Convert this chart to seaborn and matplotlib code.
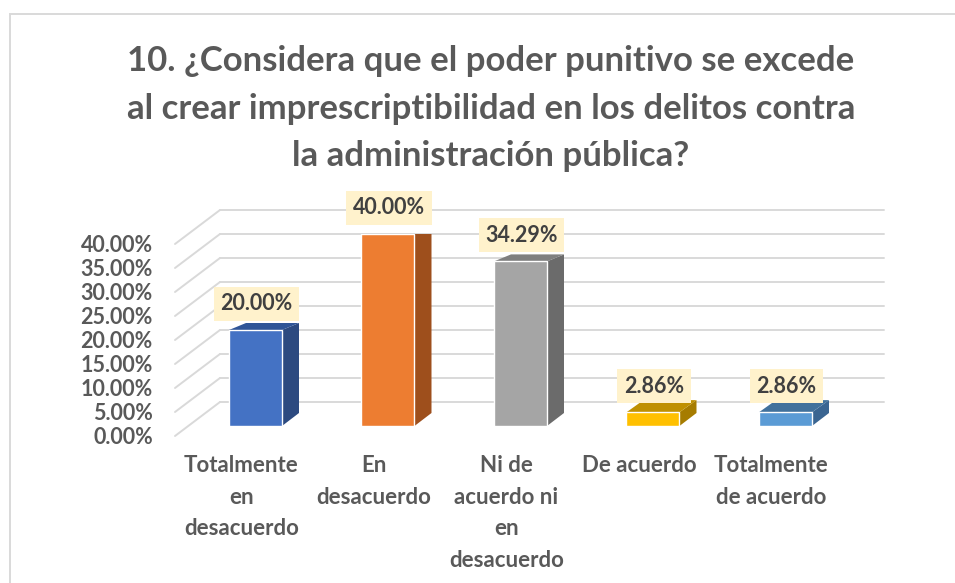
import matplotlib
matplotlib.use("Agg")
import matplotlib.pyplot as plt
import matplotlib.transforms as mtransforms
from matplotlib.patches import Polygon, Rectangle
import seaborn as sns
import pandas as pd

# datos de la pregunta 10
categories = [
    "Totalmente\nen\ndesacuerdo",
    "En\ndesacuerdo",
    "Ni de\nacuerdo ni\nen\ndesacuerdo",
    "De acuerdo",
    "Totalmente\nde acuerdo",
]
percentages = [20.00, 40.00, 34.29, 2.86, 2.86]
y_ticks = [0, 5, 10, 15, 20, 25, 30, 35, 40]
title = (
    "10. ¿Considera que el poder punitivo se excede\n"
    "al crear imprescriptibilidad en los delitos contra\n"
    "la administración pública?"
)

# colores estilo Excel (frente, lado, tapa)
front_colors = ["#4472C4", "#ED7D31", "#A5A5A5", "#FFC000", "#5B9BD5"]
side_colors = ["#2C4A80", "#9E4F1C", "#6B6B6B", "#A67C00", "#3A6591"]
top_colors = ["#2F5597", "#C55A11", "#7F7F7F", "#BF9000", "#41719C"]
text_grey = "#595959"
grid_grey = "#D9D9D9"

DPI = 100
W, H = 955, 583

sns.set_theme(style="white")
plt.rcParams["font.family"] = ["Lato", "DejaVu Sans"]

fig = plt.figure(figsize=(W / DPI, H / DPI), dpi=DPI)
ax = fig.add_axes([175 / W, 157 / H, 664 / W, 192 / H])

df = pd.DataFrame({"categoria": categories, "porcentaje": percentages})
sns.barplot(
    data=df,
    x="categoria",
    y="porcentaje",
    hue="categoria",
    palette=front_colors,
    legend=False,
    width=0.4,
    saturation=1,
    ax=ax,
    zorder=3,
)

ax.set_xlim(-0.6075, 4.4038)
ax.set_ylim(0, 40)
ax.set_xlabel("")
ax.set_ylabel("")
for sp in ax.spines.values():
    sp.set_visible(False)
ax.patch.set_alpha(0)

ax.set_yticks(y_ticks)
ax.set_yticklabels([f"{v:.2f}%" for v in y_ticks])
ax.tick_params(axis="y", length=0, pad=16, labelsize=15.5, labelcolor=text_grey)
ax.tick_params(axis="x", length=0, pad=21, labelsize=16, labelcolor=text_grey)
for lbl in ax.get_yticklabels() + ax.get_xticklabels():
    lbl.set_fontweight("bold")
for lbl in ax.get_xticklabels():
    lbl.set_linespacing(1.62)
    lbl.set_multialignment("center")

# desplazar etiquetas al plano frontal de la vista 3D
px = lambda dx, dy: mtransforms.ScaledTranslation(dx / DPI, dy / DPI, fig.dpi_scale_trans)
for t in ax.yaxis.get_major_ticks():
    t.label1.set_transform(t.label1.get_transform() + px(0, -10))
for t in ax.xaxis.get_major_ticks():
    t.label1.set_transform(t.label1.get_transform() + px(-14, 0))

# cuadricula en la pared del fondo y lineas oblicuas del lado izquierdo
back = ax.get_yaxis_transform() + px(45, 24)
ident = mtransforms.IdentityTransform()
for v in y_ticks:
    ax.plot([0, 1], [v, v], transform=back, color=grid_grey, lw=1.4,
            clip_on=False, zorder=0)
    x0, y0 = ax.get_yaxis_transform().transform((0, v))
    ax.plot([x0, x0 + 45], [y0 - 10, y0 + 24], transform=ident,
            color=grid_grey, lw=1.4, clip_on=False, zorder=0)

# caras laterales y superiores de las barras + etiquetas de datos
depth_x = 17
for i, container in enumerate(ax.containers):
    for bar in container:
        x0 = bar.get_x()
        x1 = x0 + bar.get_width()
        h = bar.get_height()
        (dx0, dy0), (dx1, dy1) = ax.transData.transform([(x0, 0), (x1, h)])
        dtop = max(7, 13 - 0.3 * h)
        side = Polygon(
            [(dx1, dy0), (dx1 + depth_x, dy0 + 13), (dx1 + depth_x, dy1 + dtop), (dx1, dy1)],
            closed=True, transform=ident, fc=side_colors[i], ec="none", zorder=2,
        )
        top = Polygon(
            [(dx0, dy1), (dx1, dy1), (dx1 + depth_x, dy1 + dtop), (dx0 + depth_x, dy1 + dtop)],
            closed=True, transform=ident, fc=top_colors[i], ec="none", zorder=2,
        )
        ax.add_artist(side)
        ax.add_artist(top)
        ax.annotate(
            f"{h:.2f}%",
            xy=(x0 + bar.get_width() / 2, h),
            xytext=(1 * 0.72, 26 * 0.72),
            textcoords="offset points",
            ha="center",
            va="center",
            fontsize=15.5,
            fontweight="bold",
            color="#404040",
            annotation_clip=False,
            zorder=5,
            bbox=dict(boxstyle="square,pad=0.3", fc="#FFF2CC", ec="none"),
        )

# titulo
fig.text(491 / W, 1 - 45 / H, title, ha="center", va="top", fontsize=25,
         fontweight="bold", color=text_grey, linespacing=1.6)

# borde del area del grafico
fig.add_artist(Rectangle((10 / W, -0.05), 1.0, 1 - 14 / H + 0.05,
                         transform=fig.transFigure, fill=False,
                         ec=grid_grey, lw=1.4))

fig.savefig("out.png", dpi=DPI, facecolor="white")
